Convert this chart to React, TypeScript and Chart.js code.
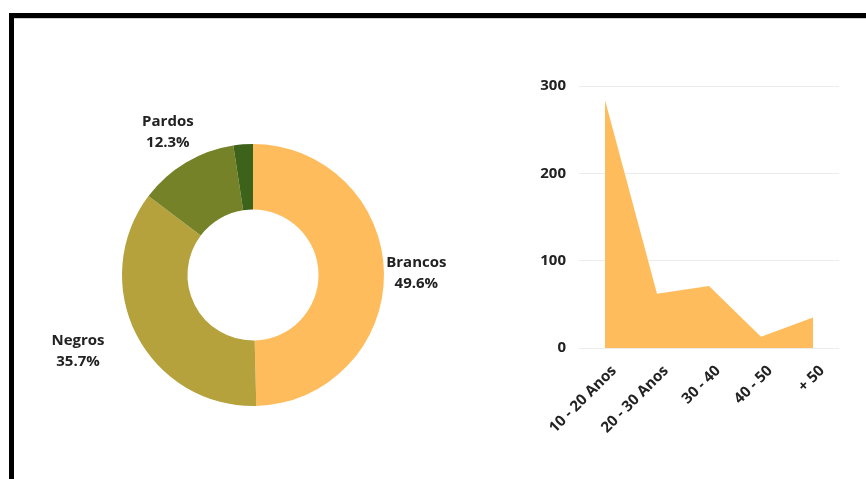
import React, { useEffect, useRef } from "react";
import { Chart, registerables } from "chart.js";

Chart.register(...registerables);

// ---- Data ----
const raceLabels = ["Brancos", "Negros", "Pardos", "Outros"];
const racePercents = [49.6, 35.7, 12.3, 2.4];
const raceColors = ["#FFBC5C", "#B5A23C", "#758228", "#3D6219"];

const ageLabels = ["10 - 20 Anos", "20 - 30 Anos", "30 - 40", "40 - 50", "+ 50"];
const ageValues = [284, 62, 71, 13, 35];
const yTicks = [0, 100, 200, 300];

const FONT = "'Open Sans', 'Noto Sans', sans-serif";
const TEXT = "#222";

const donutLabels = {
  id: "donutLabels",
  afterDatasetsDraw(chart: any, _args: any, opts: any) {
    const meta = chart.getDatasetMeta(0);
    const data = chart.data.datasets[0].data as number[];
    const total = data.reduce((a, b) => a + b, 0);
    const ctx = chart.ctx;
    ctx.save();
    ctx.font = `bold ${opts.size}px ${FONT}`;
    ctx.fillStyle = TEXT;
    ctx.textAlign = "center";
    ctx.textBaseline = "middle";
    meta.data.forEach((arc: any, i: number) => {
      const pct = (data[i] / total) * 100;
      if (pct < opts.minPercent) return;
      const p = arc.getProps(["x", "y", "startAngle", "endAngle", "outerRadius"], true);
      const mid = (p.startAngle + p.endAngle) / 2;
      const r = p.outerRadius * opts.radiusFactor;
      const lx = p.x + Math.cos(mid) * r + (opts.nudges[i] || 0);
      const ly = p.y + Math.sin(mid) * r;
      ctx.fillText(chart.data.labels[i], lx, ly - opts.lineHeight / 2);
      ctx.fillText(pct.toFixed(1) + "%", lx, ly + opts.lineHeight / 2);
    });
    ctx.restore();
  },
};

export default function App() {
  const donutRef = useRef<HTMLCanvasElement>(null);
  const lineRef = useRef<HTMLCanvasElement>(null);

  useEffect(() => {
    const donut = new Chart(donutRef.current!, {
      type: "doughnut",
      data: {
        labels: raceLabels,
        datasets: [
          {
            data: racePercents,
            backgroundColor: raceColors,
            borderWidth: 0,
          },
        ],
      },
      options: {
        responsive: false,
        animation: false,
        cutout: "50%",
        layout: { padding: { left: 119, right: 119, top: 34, bottom: 34 } },
        events: [],
        plugins: {
          legend: { display: false },
          tooltip: { enabled: false },
          donutLabels: {
            size: 15,
            lineHeight: 21,
            radiusFactor: 1.27,
            minPercent: 3,
            nudges: [-3, -27, 0, 0],
          },
        } as any,
      },
      plugins: [donutLabels],
    });

    const line = new Chart(lineRef.current!, {
      type: "line",
      data: {
        labels: ageLabels,
        datasets: [
          {
            data: ageValues,
            backgroundColor: "#FFBC5C",
            borderWidth: 0,
            borderColor: "rgba(0,0,0,0)",
            fill: "origin",
            pointRadius: 0,
            tension: 0,
          },
        ],
      },
      options: {
        responsive: false,
        animation: false,
        events: [],
        layout: { padding: { top: 26, right: 11, left: 0, bottom: 0 } },
        plugins: { legend: { display: false }, tooltip: { enabled: false } },
        scales: {
          x: {
            offset: true,
            grid: { display: false, drawTicks: false },
            border: { display: false },
            ticks: {
              minRotation: 45,
              maxRotation: 45,
              padding: 14,
              labelOffset: 9,
              color: TEXT,
              font: { family: FONT, size: 15, weight: "bold" },
            },
            afterFit: (s: any) => {
              s.height = 110;
            },
          },
          y: {
            min: 0,
            max: 300,
            afterBuildTicks: (s: any) => {
              s.ticks = yTicks.map((v) => ({ value: v }));
            },
            grid: { color: "#ECECEC", drawTicks: false },
            border: { display: false },
            ticks: {
              padding: 13,
              color: TEXT,
              font: { family: FONT, size: 15, weight: "bold" },
            },
            afterFit: (s: any) => {
              s.width = 59;
            },
          },
        },
      },
    });

    return () => {
      donut.destroy();
      line.destroy();
    };
  }, []);

  return (
    <div
      style={{
        position: "fixed",
        left: 0,
        top: 0,
        width: 866,
        height: 479,
        overflow: "hidden",
        background: "#fff",
      }}
    >
      <div
        style={{
          position: "absolute",
          left: 9,
          top: 13,
          width: 950,
          height: 600,
          border: "5px solid #000",
          boxSizing: "border-box",
        }}
      >
        <div
          style={{
            position: "absolute",
            left: 0,
            top: 0,
            right: 0,
            height: 1,
            background: "#cfcfcf",
          }}
        />
      </div>
      <canvas
        ref={donutRef}
        width={500}
        height={330}
        style={{ position: "absolute", left: 3, top: 110 }}
      />
      <canvas
        ref={lineRef}
        width={330}
        height={398}
        style={{ position: "absolute", left: 520, top: 60 }}
      />
    </div>
  );
}
